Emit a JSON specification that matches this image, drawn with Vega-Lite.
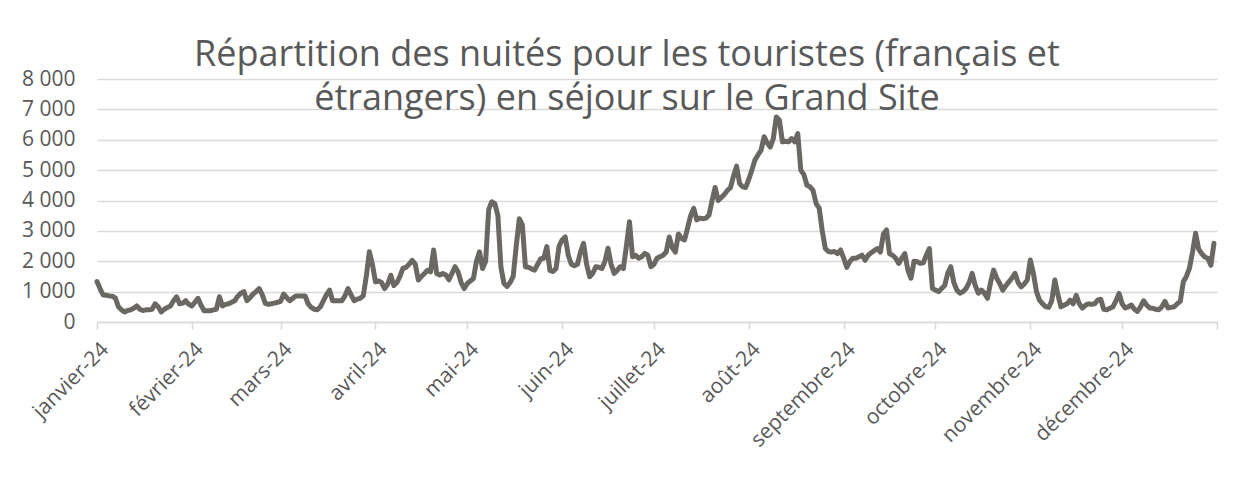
{
  "$schema": "https://vega.github.io/schema/vega-lite/v6.json",
  "width": 1120,
  "height": 243,
  "autosize": {"type": "none"},
  "padding": {"left": 97, "top": 79, "right": 31, "bottom": 157},
  "background": "white",
  "title": {
    "text": ["Répartition des nuités pour les touristes (français et", "étrangers) en séjour sur le Grand Site"],
    "font": "Open Sans",
    "fontSize": 36,
    "fontWeight": "normal",
    "color": "#595959",
    "anchor": "middle",
    "dx": -30,
    "lineHeight": 44,
    "offset": -50
  },
  "data": {
    "values": [
{"date":"2024-01-01","nuitees":1330},{"date":"2024-01-02","nuitees":1100},{"date":"2024-01-03","nuitees":890},{"date":"2024-01-04","nuitees":880},{"date":"2024-01-05","nuitees":860},{"date":"2024-01-06","nuitees":850},{"date":"2024-01-07","nuitees":790},{"date":"2024-01-08","nuitees":500},{"date":"2024-01-09","nuitees":400},{"date":"2024-01-10","nuitees":330},{"date":"2024-01-11","nuitees":380},{"date":"2024-01-12","nuitees":400},{"date":"2024-01-13","nuitees":450},{"date":"2024-01-14","nuitees":530},{"date":"2024-01-15","nuitees":420},{"date":"2024-01-16","nuitees":380},{"date":"2024-01-17","nuitees":400},{"date":"2024-01-18","nuitees":400},{"date":"2024-01-19","nuitees":420},{"date":"2024-01-20","nuitees":600},{"date":"2024-01-21","nuitees":500},{"date":"2024-01-22","nuitees":330},{"date":"2024-01-23","nuitees":420},{"date":"2024-01-24","nuitees":480},{"date":"2024-01-25","nuitees":530},{"date":"2024-01-26","nuitees":700},{"date":"2024-01-27","nuitees":830},{"date":"2024-01-28","nuitees":600},{"date":"2024-01-29","nuitees":620},{"date":"2024-01-30","nuitees":700},{"date":"2024-01-31","nuitees":580},
{"date":"2024-02-01","nuitees":530},{"date":"2024-02-02","nuitees":650},{"date":"2024-02-03","nuitees":780},{"date":"2024-02-04","nuitees":550},{"date":"2024-02-05","nuitees":370},{"date":"2024-02-06","nuitees":370},{"date":"2024-02-07","nuitees":370},{"date":"2024-02-08","nuitees":400},{"date":"2024-02-09","nuitees":420},{"date":"2024-02-10","nuitees":830},{"date":"2024-02-11","nuitees":530},{"date":"2024-02-12","nuitees":580},{"date":"2024-02-13","nuitees":600},{"date":"2024-02-14","nuitees":650},{"date":"2024-02-15","nuitees":700},{"date":"2024-02-16","nuitees":850},{"date":"2024-02-17","nuitees":950},{"date":"2024-02-18","nuitees":1000},{"date":"2024-02-19","nuitees":700},{"date":"2024-02-20","nuitees":800},{"date":"2024-02-21","nuitees":920},{"date":"2024-02-22","nuitees":1000},{"date":"2024-02-23","nuitees":1100},{"date":"2024-02-24","nuitees":900},{"date":"2024-02-25","nuitees":610},{"date":"2024-02-26","nuitees":580},{"date":"2024-02-27","nuitees":600},{"date":"2024-02-28","nuitees":620},{"date":"2024-02-29","nuitees":650},
{"date":"2024-03-01","nuitees":680},{"date":"2024-03-02","nuitees":920},{"date":"2024-03-03","nuitees":800},{"date":"2024-03-04","nuitees":700},{"date":"2024-03-05","nuitees":780},{"date":"2024-03-06","nuitees":860},{"date":"2024-03-07","nuitees":860},{"date":"2024-03-08","nuitees":860},{"date":"2024-03-09","nuitees":860},{"date":"2024-03-10","nuitees":600},{"date":"2024-03-11","nuitees":480},{"date":"2024-03-12","nuitees":420},{"date":"2024-03-13","nuitees":400},{"date":"2024-03-14","nuitees":500},{"date":"2024-03-15","nuitees":700},{"date":"2024-03-16","nuitees":900},{"date":"2024-03-17","nuitees":1050},{"date":"2024-03-18","nuitees":700},{"date":"2024-03-19","nuitees":700},{"date":"2024-03-20","nuitees":700},{"date":"2024-03-21","nuitees":700},{"date":"2024-03-22","nuitees":850},{"date":"2024-03-23","nuitees":1100},{"date":"2024-03-24","nuitees":900},{"date":"2024-03-25","nuitees":700},{"date":"2024-03-26","nuitees":750},{"date":"2024-03-27","nuitees":780},{"date":"2024-03-28","nuitees":860},{"date":"2024-03-29","nuitees":1500},{"date":"2024-03-30","nuitees":2310},{"date":"2024-03-31","nuitees":1900},
{"date":"2024-04-01","nuitees":1320},{"date":"2024-04-02","nuitees":1350},{"date":"2024-04-03","nuitees":1300},{"date":"2024-04-04","nuitees":1100},{"date":"2024-04-05","nuitees":1250},{"date":"2024-04-06","nuitees":1540},{"date":"2024-04-07","nuitees":1200},{"date":"2024-04-08","nuitees":1300},{"date":"2024-04-09","nuitees":1500},{"date":"2024-04-10","nuitees":1770},{"date":"2024-04-11","nuitees":1800},{"date":"2024-04-12","nuitees":1900},{"date":"2024-04-13","nuitees":2030},{"date":"2024-04-14","nuitees":1900},{"date":"2024-04-15","nuitees":1380},{"date":"2024-04-16","nuitees":1500},{"date":"2024-04-17","nuitees":1600},{"date":"2024-04-18","nuitees":1700},{"date":"2024-04-19","nuitees":1650},{"date":"2024-04-20","nuitees":2370},{"date":"2024-04-21","nuitees":1600},{"date":"2024-04-22","nuitees":1550},{"date":"2024-04-23","nuitees":1600},{"date":"2024-04-24","nuitees":1550},{"date":"2024-04-25","nuitees":1390},{"date":"2024-04-26","nuitees":1600},{"date":"2024-04-27","nuitees":1820},{"date":"2024-04-28","nuitees":1650},{"date":"2024-04-29","nuitees":1300},{"date":"2024-04-30","nuitees":1100},
{"date":"2024-05-01","nuitees":1270},{"date":"2024-05-02","nuitees":1350},{"date":"2024-05-03","nuitees":1430},{"date":"2024-05-04","nuitees":2000},{"date":"2024-05-05","nuitees":2310},{"date":"2024-05-06","nuitees":1760},{"date":"2024-05-07","nuitees":2000},{"date":"2024-05-08","nuitees":3700},{"date":"2024-05-09","nuitees":3960},{"date":"2024-05-10","nuitees":3900},{"date":"2024-05-11","nuitees":3500},{"date":"2024-05-12","nuitees":1800},{"date":"2024-05-13","nuitees":1270},{"date":"2024-05-14","nuitees":1170},{"date":"2024-05-15","nuitees":1300},{"date":"2024-05-16","nuitees":1500},{"date":"2024-05-17","nuitees":2500},{"date":"2024-05-18","nuitees":3400},{"date":"2024-05-19","nuitees":3200},{"date":"2024-05-20","nuitees":1820},{"date":"2024-05-21","nuitees":1800},{"date":"2024-05-22","nuitees":1750},{"date":"2024-05-23","nuitees":1710},{"date":"2024-05-24","nuitees":1900},{"date":"2024-05-25","nuitees":2080},{"date":"2024-05-26","nuitees":2100},{"date":"2024-05-27","nuitees":2480},{"date":"2024-05-28","nuitees":1700},{"date":"2024-05-29","nuitees":1660},{"date":"2024-05-30","nuitees":1760},{"date":"2024-05-31","nuitees":2500},
{"date":"2024-06-01","nuitees":2700},{"date":"2024-06-02","nuitees":2800},{"date":"2024-06-03","nuitees":2200},{"date":"2024-06-04","nuitees":1900},{"date":"2024-06-05","nuitees":1850},{"date":"2024-06-06","nuitees":1900},{"date":"2024-06-07","nuitees":2300},{"date":"2024-06-08","nuitees":2590},{"date":"2024-06-09","nuitees":1900},{"date":"2024-06-10","nuitees":1490},{"date":"2024-06-11","nuitees":1600},{"date":"2024-06-12","nuitees":1820},{"date":"2024-06-13","nuitees":1800},{"date":"2024-06-14","nuitees":1760},{"date":"2024-06-15","nuitees":2000},{"date":"2024-06-16","nuitees":2430},{"date":"2024-06-17","nuitees":1900},{"date":"2024-06-18","nuitees":1600},{"date":"2024-06-19","nuitees":1700},{"date":"2024-06-20","nuitees":1820},{"date":"2024-06-21","nuitees":1760},{"date":"2024-06-22","nuitees":2500},{"date":"2024-06-23","nuitees":3300},{"date":"2024-06-24","nuitees":2150},{"date":"2024-06-25","nuitees":2200},{"date":"2024-06-26","nuitees":2100},{"date":"2024-06-27","nuitees":2150},{"date":"2024-06-28","nuitees":2260},{"date":"2024-06-29","nuitees":2200},{"date":"2024-06-30","nuitees":1820},
{"date":"2024-07-01","nuitees":1900},{"date":"2024-07-02","nuitees":2100},{"date":"2024-07-03","nuitees":2150},{"date":"2024-07-04","nuitees":2200},{"date":"2024-07-05","nuitees":2300},{"date":"2024-07-06","nuitees":2800},{"date":"2024-07-07","nuitees":2450},{"date":"2024-07-08","nuitees":2300},{"date":"2024-07-09","nuitees":2900},{"date":"2024-07-10","nuitees":2750},{"date":"2024-07-11","nuitees":2700},{"date":"2024-07-12","nuitees":3100},{"date":"2024-07-13","nuitees":3500},{"date":"2024-07-14","nuitees":3740},{"date":"2024-07-15","nuitees":3360},{"date":"2024-07-16","nuitees":3420},{"date":"2024-07-17","nuitees":3400},{"date":"2024-07-18","nuitees":3420},{"date":"2024-07-19","nuitees":3520},{"date":"2024-07-20","nuitees":4000},{"date":"2024-07-21","nuitees":4430},{"date":"2024-07-22","nuitees":4000},{"date":"2024-07-23","nuitees":4100},{"date":"2024-07-24","nuitees":4200},{"date":"2024-07-25","nuitees":4330},{"date":"2024-07-26","nuitees":4420},{"date":"2024-07-27","nuitees":4800},{"date":"2024-07-28","nuitees":5130},{"date":"2024-07-29","nuitees":4560},{"date":"2024-07-30","nuitees":4450},{"date":"2024-07-31","nuitees":4430},
{"date":"2024-08-01","nuitees":4700},{"date":"2024-08-02","nuitees":5000},{"date":"2024-08-03","nuitees":5330},{"date":"2024-08-04","nuitees":5500},{"date":"2024-08-05","nuitees":5650},{"date":"2024-08-06","nuitees":6100},{"date":"2024-08-07","nuitees":5900},{"date":"2024-08-08","nuitees":5760},{"date":"2024-08-09","nuitees":6040},{"date":"2024-08-10","nuitees":6750},{"date":"2024-08-11","nuitees":6640},{"date":"2024-08-12","nuitees":5930},{"date":"2024-08-13","nuitees":5950},{"date":"2024-08-14","nuitees":5930},{"date":"2024-08-15","nuitees":6040},{"date":"2024-08-16","nuitees":5930},{"date":"2024-08-17","nuitees":6200},{"date":"2024-08-18","nuitees":5000},{"date":"2024-08-19","nuitees":4850},{"date":"2024-08-20","nuitees":4500},{"date":"2024-08-21","nuitees":4450},{"date":"2024-08-22","nuitees":4330},{"date":"2024-08-23","nuitees":3900},{"date":"2024-08-24","nuitees":3750},{"date":"2024-08-25","nuitees":3000},{"date":"2024-08-26","nuitees":2420},{"date":"2024-08-27","nuitees":2320},{"date":"2024-08-28","nuitees":2300},{"date":"2024-08-29","nuitees":2320},{"date":"2024-08-30","nuitees":2250},{"date":"2024-08-31","nuitees":2370},
{"date":"2024-09-01","nuitees":2100},{"date":"2024-09-02","nuitees":1800},{"date":"2024-09-03","nuitees":1990},{"date":"2024-09-04","nuitees":2100},{"date":"2024-09-05","nuitees":2100},{"date":"2024-09-06","nuitees":2150},{"date":"2024-09-07","nuitees":2200},{"date":"2024-09-08","nuitees":2030},{"date":"2024-09-09","nuitees":2200},{"date":"2024-09-10","nuitees":2280},{"date":"2024-09-11","nuitees":2350},{"date":"2024-09-12","nuitees":2420},{"date":"2024-09-13","nuitees":2300},{"date":"2024-09-14","nuitees":2900},{"date":"2024-09-15","nuitees":3030},{"date":"2024-09-16","nuitees":2250},{"date":"2024-09-17","nuitees":2200},{"date":"2024-09-18","nuitees":2100},{"date":"2024-09-19","nuitees":1930},{"date":"2024-09-20","nuitees":2100},{"date":"2024-09-21","nuitees":2250},{"date":"2024-09-22","nuitees":1700},{"date":"2024-09-23","nuitees":1440},{"date":"2024-09-24","nuitees":2000},{"date":"2024-09-25","nuitees":1990},{"date":"2024-09-26","nuitees":1930},{"date":"2024-09-27","nuitees":1950},{"date":"2024-09-28","nuitees":2200},{"date":"2024-09-29","nuitees":2420},{"date":"2024-09-30","nuitees":1110},
{"date":"2024-10-01","nuitees":1050},{"date":"2024-10-02","nuitees":1000},{"date":"2024-10-03","nuitees":1100},{"date":"2024-10-04","nuitees":1200},{"date":"2024-10-05","nuitees":1600},{"date":"2024-10-06","nuitees":1820},{"date":"2024-10-07","nuitees":1300},{"date":"2024-10-08","nuitees":1050},{"date":"2024-10-09","nuitees":950},{"date":"2024-10-10","nuitees":1000},{"date":"2024-10-11","nuitees":1100},{"date":"2024-10-12","nuitees":1300},{"date":"2024-10-13","nuitees":1600},{"date":"2024-10-14","nuitees":1200},{"date":"2024-10-15","nuitees":950},{"date":"2024-10-16","nuitees":1050},{"date":"2024-10-17","nuitees":950},{"date":"2024-10-18","nuitees":780},{"date":"2024-10-19","nuitees":1300},{"date":"2024-10-20","nuitees":1710},{"date":"2024-10-21","nuitees":1450},{"date":"2024-10-22","nuitees":1270},{"date":"2024-10-23","nuitees":1050},{"date":"2024-10-24","nuitees":1200},{"date":"2024-10-25","nuitees":1320},{"date":"2024-10-26","nuitees":1450},{"date":"2024-10-27","nuitees":1600},{"date":"2024-10-28","nuitees":1300},{"date":"2024-10-29","nuitees":1160},{"date":"2024-10-30","nuitees":1250},{"date":"2024-10-31","nuitees":1380},
{"date":"2024-11-01","nuitees":2040},{"date":"2024-11-02","nuitees":1600},{"date":"2024-11-03","nuitees":1000},{"date":"2024-11-04","nuitees":720},{"date":"2024-11-05","nuitees":600},{"date":"2024-11-06","nuitees":500},{"date":"2024-11-07","nuitees":480},{"date":"2024-11-08","nuitees":700},{"date":"2024-11-09","nuitees":1380},{"date":"2024-11-10","nuitees":900},{"date":"2024-11-11","nuitees":500},{"date":"2024-11-12","nuitees":550},{"date":"2024-11-13","nuitees":600},{"date":"2024-11-14","nuitees":720},{"date":"2024-11-15","nuitees":600},{"date":"2024-11-16","nuitees":880},{"date":"2024-11-17","nuitees":600},{"date":"2024-11-18","nuitees":460},{"date":"2024-11-19","nuitees":550},{"date":"2024-11-20","nuitees":600},{"date":"2024-11-21","nuitees":580},{"date":"2024-11-22","nuitees":600},{"date":"2024-11-23","nuitees":720},{"date":"2024-11-24","nuitees":750},{"date":"2024-11-25","nuitees":420},{"date":"2024-11-26","nuitees":400},{"date":"2024-11-27","nuitees":450},{"date":"2024-11-28","nuitees":500},{"date":"2024-11-29","nuitees":700},{"date":"2024-11-30","nuitees":940},
{"date":"2024-12-01","nuitees":600},{"date":"2024-12-02","nuitees":460},{"date":"2024-12-03","nuitees":500},{"date":"2024-12-04","nuitees":560},{"date":"2024-12-05","nuitees":420},{"date":"2024-12-06","nuitees":350},{"date":"2024-12-07","nuitees":500},{"date":"2024-12-08","nuitees":700},{"date":"2024-12-09","nuitees":560},{"date":"2024-12-10","nuitees":460},{"date":"2024-12-11","nuitees":450},{"date":"2024-12-12","nuitees":420},{"date":"2024-12-13","nuitees":400},{"date":"2024-12-14","nuitees":500},{"date":"2024-12-15","nuitees":680},{"date":"2024-12-16","nuitees":460},{"date":"2024-12-17","nuitees":480},{"date":"2024-12-18","nuitees":500},{"date":"2024-12-19","nuitees":600},{"date":"2024-12-20","nuitees":680},{"date":"2024-12-21","nuitees":1330},{"date":"2024-12-22","nuitees":1500},{"date":"2024-12-23","nuitees":1770},{"date":"2024-12-24","nuitees":2300},{"date":"2024-12-25","nuitees":2920},{"date":"2024-12-26","nuitees":2400},{"date":"2024-12-27","nuitees":2250},{"date":"2024-12-28","nuitees":2140},{"date":"2024-12-29","nuitees":2100},{"date":"2024-12-30","nuitees":1870},{"date":"2024-12-31","nuitees":2590}
    ],
    "format": {"parse": {"date": "utc:'%Y-%m-%d'"}}
  },
  "mark": {"type": "line", "color": "#6b6864", "strokeWidth": 5, "strokeJoin": "round", "strokeCap": "round"},
  "encoding": {
    "x": {
      "field": "date",
      "type": "temporal",
      "scale": {"type": "utc", "domain": [{"year": 2024, "month": 1, "date": 1, "utc": true}, {"year": 2025, "month": 1, "date": 1, "utc": true}]},
      "axis": {
        "title": null,
        "values": [
          {"year": 2024, "month": 1, "date": 1, "utc": true},
          {"year": 2024, "month": 2, "date": 1, "utc": true},
          {"year": 2024, "month": 3, "date": 1, "utc": true},
          {"year": 2024, "month": 4, "date": 1, "utc": true},
          {"year": 2024, "month": 5, "date": 1, "utc": true},
          {"year": 2024, "month": 6, "date": 1, "utc": true},
          {"year": 2024, "month": 7, "date": 1, "utc": true},
          {"year": 2024, "month": 8, "date": 1, "utc": true},
          {"year": 2024, "month": 9, "date": 1, "utc": true},
          {"year": 2024, "month": 10, "date": 1, "utc": true},
          {"year": 2024, "month": 11, "date": 1, "utc": true},
          {"year": 2024, "month": 12, "date": 1, "utc": true},
          {"year": 2025, "month": 1, "date": 1, "utc": true}
        ],
        "labelExpr": "utcyear(datum.value) > 2024 ? '' : ['janvier','février','mars','avril','mai','juin','juillet','août','septembre','octobre','novembre','décembre'][utcmonth(datum.value)] + '-24'",
        "labelAngle": -45,
        "labelAlign": "right",
        "labelBaseline": "middle",
        "labelPadding": 17,
        "labelOffset": 8,
        "labelFont": "Open Sans",
        "labelFontSize": 21,
        "labelColor": "#595959",
        "labelOverlap": false,
        "labelFlush": false,
        "grid": false,
        "domainColor": "#d9d9d9",
        "domainWidth": 1.5,
        "tickColor": "#d9d9d9",
        "tickWidth": 1.5,
        "tickSize": 7
      }
    },
    "y": {
      "field": "nuitees",
      "type": "quantitative",
      "scale": {"domain": [0, 8000], "nice": false},
      "axis": {
        "title": null,
        "values": [0, 1000, 2000, 3000, 4000, 5000, 6000, 7000, 8000],
        "labelExpr": "replace(format(datum.value, ','), ',', ' ')",
        "labelFont": "Open Sans",
        "labelFontSize": 21,
        "labelColor": "#595959",
        "labelPadding": 22,
        "domain": false,
        "ticks": false,
        "grid": true,
        "gridColor": "#d9d9d9",
        "gridWidth": 1.5
      }
    }
  },
  "config": {
    "view": {"stroke": null}
  }
}
